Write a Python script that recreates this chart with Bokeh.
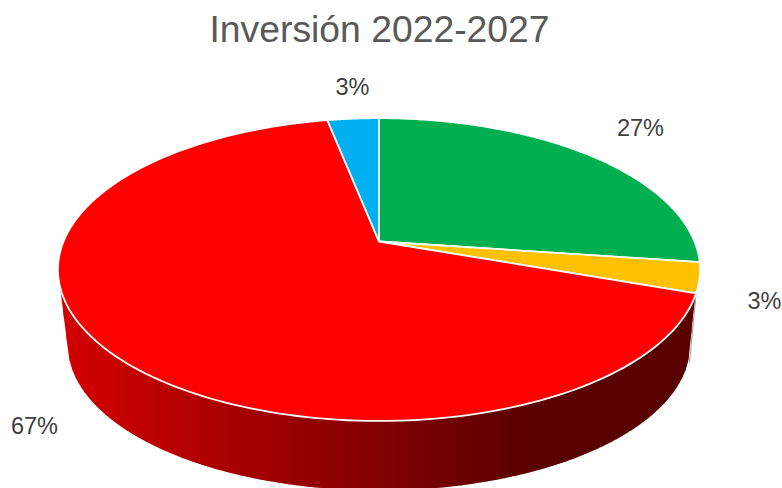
import numpy as np
from bokeh.core.properties import value
from bokeh.embed import file_html
from bokeh.models import Range1d
from bokeh.plotting import figure
from bokeh.resources import INLINE

title_text = "Inversión 2022-2027"
categories = ["Verde", "Amarillo", "Rojo", "Azul"]
values = [27.2, 3.2, 66.5, 3.1]
pct_labels = ["27%", "3%", "67%", "3%"]
colors = ["#00B050", "#FFC000", "#FF0000", "#00B0F0"]
wall_stops_x = [60, 530]
wall_stops_red = [212, 90]

# label anchors in the page's pixel space
label_x = [640, 764, 34, 352]
label_y = [127.5, 300, 425.5, 86.5]

# projection of the pie's disc
CX, AY, K = 378.5, 241.0, 0.1854
A = 146.2
B = 315.5
UP_CY, UP_RX, UP_RY = 269.0, 321.0, 151.0
LOW_CY, LOW_RX, LOW_RY = 345.0, 311.0, 145.0


def project(theta):
    sx, cy = np.sin(theta), np.cos(theta)
    den = 1 + K * cy
    return CX + B * sx / den, AY - A * cy / den


p = figure(width=782, height=488, output_backend="svg", toolbar_location=None,
           x_range=Range1d(0, 782), y_range=Range1d(488, 0),
           x_axis_type=None, y_axis_type=None, min_border=0)
p.outline_line_color = None
p.grid.visible = False
p.background_fill_color = "white"
p.border_fill_color = "white"


def upper(x):
    d = np.clip((x - CX) / UP_RX, -1, 1)
    return UP_CY + UP_RY * np.sqrt(1 - d * d)


y_at_l = LOW_CY + LOW_RY * np.sqrt(1 - ((68 - CX) / LOW_RX) ** 2)
y_at_r = LOW_CY + LOW_RY * np.sqrt(1 - ((688 - CX) / LOW_RX) ** 2)


def lower(x):
    d = np.clip((x - CX) / LOW_RX, -1, 1)
    y = LOW_CY + LOW_RY * np.sqrt(1 - d * d)
    # straight edges of the wall at both ends
    left = 290 + (x - 60) * (y_at_l - 290) / (68 - 60)
    right = 293 + (695 - x) * (y_at_r - 293) / (695 - 688)
    return np.where(x < 68, left, np.where(x > 688, right, y))


# shaded wall, drawn as narrow strips
xs_w, ys_w, cs_w = [], [], []
STEP = 3
for x0 in np.arange(60, 695, STEP):
    x1 = min(x0 + STEP + 1, 695)
    xx = np.linspace(x0, x1, 4)
    xs_w.append(np.concatenate([xx, xx[::-1]]).tolist())
    ys_w.append(np.concatenate([upper(xx) - 3, lower(xx[::-1])]).tolist())
    r = int(round(np.interp(x0, wall_stops_x, wall_stops_red)))
    cs_w.append(f"#{r:02x}0000")
p.patches(xs_w, ys_w, fill_color=cs_w, line_color=None)

# thin sliver of the next slice's wall at the right end
p.line([695.5, 689], [294, 362], line_color="#a89a88", line_width=1)

# top of the pie
edges = np.cumsum([0] + values) / sum(values) * 2 * np.pi
xs_s, ys_s = [], []
for a0, a1 in zip(edges[:-1], edges[1:]):
    t = np.linspace(a0, a1, 160)
    x, y = project(t)
    xs_s.append([CX] + x.tolist())
    ys_s.append([AY] + y.tolist())
p.patches(xs_s, ys_s, fill_color=colors, line_color="white", line_width=1.8,
          line_join="round")

# texts
p.text(x=[379], y=[28], text=[title_text], text_font=value("Liberation Sans"),
       text_font_size="37.3px", text_color="#595959", text_align="center",
       text_baseline="middle")
p.text(x=label_x, y=label_y, text=pct_labels,
       text_font=value("Liberation Sans"), text_font_size="23.5px",
       text_color="#404040", text_align="center", text_baseline="middle")

open("out.html", "w").write(file_html(p, INLINE))
